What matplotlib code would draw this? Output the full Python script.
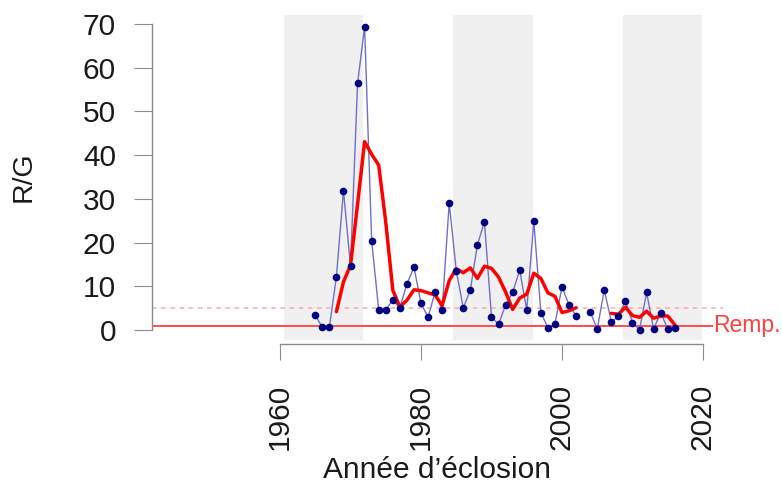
import numpy as np
import matplotlib
matplotlib.use("Agg")
import matplotlib.pyplot as plt

plt.rcParams['font.family'] = ['Liberation Sans', 'DejaVu Sans']

# annee d'eclosion et rapport R/G (2003 manquant)
years = list(range(1965, 2017))
rg = [3.4, 0.6, 0.6, 12.2, 31.9, 14.6, 56.4, 69.4, 20.4, 4.6,
      4.6, 6.9, 5.1, 10.5, 14.4, 6.1, 2.9, 8.7, 4.6, 29.0,
      13.6, 5.0, 9.2, 19.5, 24.7, 3.0, 1.3, 5.7, 8.6, 13.7,
      4.6, 24.9, 4.0, 0.5, 1.4, 9.9, 5.7, 3.2, np.nan, 4.2,
      0.2, 9.2, 1.8, 3.1, 6.7, 1.7, 0.1, 8.6, 0.2, 4.0,
      0.2, 0.4]
# moyenne mobile (courbe rouge)
rg_mean = [np.nan, np.nan, np.nan, 4.2, 11.0, 14.8, 28.8, 43.1, 40.2, 37.7,
           24.7, 9.1, 5.3, 6.8, 9.2, 9.0, 8.5, 8.0, 5.6, 11.3,
           14.0, 13.1, 14.2, 11.8, 14.6, 14.1, 12.1, 8.7, 4.7, 7.3,
           8.2, 13.0, 11.8, 8.5, 7.7, 4.0, 4.4, 5.1, np.nan, np.nan,
           np.nan, np.nan, 3.8, 3.6, 5.2, 3.3, 2.9, 4.3, 2.7, 3.2,
           3.2, 1.2]

# periodes grisees
band_start = [1960.5, 1984.6, 2008.6]
band_end = [1971.8, 1995.9, 2019.8]

seuil_remp = 1.0
seuil_pointille = 5.0

W, H = 782, 487
fig = plt.figure(figsize=(W / 100, H / 100), dpi=100)
left, right, top, bottom = 152, 723, 15, 340
ax = fig.add_axes([left / W, 1 - bottom / H, (right - left) / W, (bottom - top) / H])
ax.set_xlim(1941.84, 2022.84)
ax.set_ylim(-2.29, 72.06)

for s, e in zip(band_start, band_end):
    ax.axvspan(s, e, color='#f0f0f0', lw=0, zorder=0)

ax.axhline(seuil_pointille, color='#ffaaaa', lw=1.1, ls=(0, (3, 3)), zorder=1)
ax.hlines(seuil_remp, 1941.84, 2021.4, color='#ff4d4d', lw=1.4, zorder=1)
ax.text(2021.5, seuil_remp, 'Remp.', color='#ff4040', fontsize=16.5,
        ha='left', va='center', clip_on=False)

ax.plot(years, rg, color='#7070c8', lw=1.0, zorder=2)
ax.plot(years, rg, 'o', color='#000080', ms=5.5, mec='none', zorder=4)
ax.plot(years, rg_mean, color='#ff0000', lw=2.5, zorder=3, solid_capstyle='round')

for sp in ['top', 'right']:
    ax.spines[sp].set_visible(False)
ax.spines['bottom'].set_position(('outward', 3))
ax.spines['bottom'].set_bounds(1960, 2020)
ax.spines['left'].set_bounds(0, 70)
for sp in ['bottom', 'left']:
    ax.spines[sp].set_color('#8c8c8c')
    ax.spines[sp].set_linewidth(1.0)

ax.set_xticks([1960, 1980, 2000, 2020])
ax.set_yticks(range(0, 71, 10))
ax.tick_params(axis='x', length=11.3, pad=17, color='#8c8c8c', labelsize=21.5,
               labelrotation=90, labelcolor='#1a1a1a')
ax.tick_params(axis='y', length=13, pad=13, color='#8c8c8c', labelsize=21.5,
               labelcolor='#1a1a1a')
for lab in ax.get_xticklabels():
    lab.set_verticalalignment('top')

fig.text(24 / W, 1 - 177 / H, 'R/G', rotation=90, ha='center', va='center',
         fontsize=20.5, color='#1a1a1a')
fig.text(437 / W, 1 - 470 / H, 'Année d’éclosion', ha='center', va='center',
         fontsize=21.5, color='#1a1a1a')

fig.savefig('out.png', dpi=100)
